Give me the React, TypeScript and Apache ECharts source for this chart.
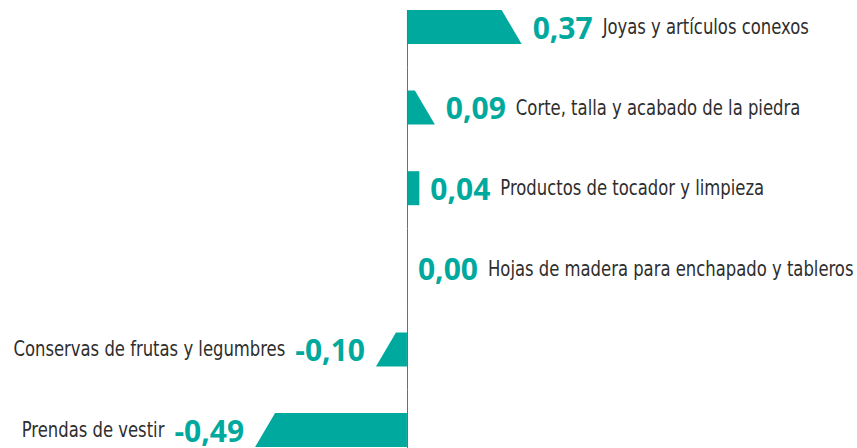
import React, { useEffect, useRef } from "react";
import * as echarts from "echarts";

const categories: string[] = [
  "Joyas y artículos conexos",
  "Corte, talla y acabado de la piedra",
  "Productos de tocador y limpieza",
  "Hojas de madera para enchapado y tableros",
  "Conservas de frutas y legumbres",
  "Prendas de vestir",
];
const values: number[] = [0.37, 0.09, 0.04, 0.0, -0.1, -0.49];

const TEAL = "#00a99d";
const TEXT = "#2e2e2e";
const AXIS = "#6e6e6e";
const CAT_FONT = "'DejaVu Sans Condensed', 'DejaVu Sans', sans-serif";
const CAT_SIZE = 21;
const CAT_SCALE = 0.87;
const VAL_FONT = "'Open Sans', sans-serif";
const VAL_SIZE = 30;

const fmt = (v: number) => v.toFixed(2).replace(".", ",");

let measureCtx: CanvasRenderingContext2D | null = null;
function measure(text: string, font: string): number {
  if (!measureCtx) measureCtx = document.createElement("canvas").getContext("2d");
  if (!measureCtx) return text.length * 16;
  measureCtx.font = font;
  return measureCtx.measureText(text).width;
}

export default function App() {
  const ref = useRef<HTMLDivElement>(null);
  useEffect(() => {
    if (!ref.current) return;
    const chart = echarts.init(ref.current, undefined, { renderer: "svg" });
    const data = values.map((v, i) => [v, i]);
    const n = values.length;
    chart.setOption({
      animation: false,
      grid: { left: 0, right: 0, top: 27, bottom: 18, containLabel: false },
      xAxis: { type: "value", min: -1.313, max: 1.452, show: false },
      yAxis: {
        type: "category",
        data: categories,
        inverse: true,
        boundaryGap: false,
        show: false,
      },
      series: [
        {
          type: "custom",
          data,
          encode: { x: 0, y: 1 },
          renderItem: (params: any, api: any) => {
            const v = api.value(0) as number;
            const idx = api.value(1) as number;
            const p0 = api.coord([0, idx]);
            const p1 = api.coord([v, idx]);
            const band = api.size([0, 1])[1];
            const h = 34;
            const slant = 20;
            const x0 = p0[0];
            const x1 = p1[0];
            const yc = p0[1];
            const w = x1 - x0;
            const sign = w >= 0 ? 1 : -1;
            const children: any[] = [];
            if (Math.abs(w) > slant) {
              children.push({
                type: "polygon",
                shape: {
                  points: [
                    [x0, yc - h / 2],
                    [x1 - sign * slant, yc - h / 2],
                    [x1, yc + h / 2],
                    [x0, yc + h / 2],
                  ],
                },
                style: { fill: TEAL },
              });
            } else if (Math.abs(w) > 0.5) {
              children.push({
                type: "rect",
                shape: { x: Math.min(x0, x1), y: yc - h / 2, width: Math.abs(w), height: h },
                style: { fill: TEAL },
              });
            }
            const lx = Math.round(x0) + 0.5;
            children.push({
              type: "line",
              shape: {
                x1: lx,
                y1: idx === 0 ? yc - h / 2 : yc - band / 2,
                x2: lx,
                y2: idx === n - 1 ? yc + band : yc + band / 2,
              },
              style: { stroke: AXIS, lineWidth: 1 },
            });
            const cat = categories[idx];
            const valText = fmt(v);
            const valW = measure(valText, `bold ${VAL_SIZE}px ${VAL_FONT}`);
            const pos = v >= 0;
            const valX = pos ? x1 + 11 : x1 - 11;
            const catX = pos ? valX + valW + 10 : valX - valW - 10;
            children.push({
              type: "text",
              x: valX,
              y: yc,
              style: {
                text: valText,
                fontFamily: VAL_FONT,
                fontWeight: "bold",
                fontSize: VAL_SIZE,
                lineHeight: 24,
                fill: TEAL,
                align: pos ? "left" : "right",
                verticalAlign: "middle",
              },
            });
            children.push({
              type: "text",
              x: catX,
              y: yc,
              scaleX: CAT_SCALE,
              style: {
                text: cat,
                fontFamily: CAT_FONT,
                fontSize: CAT_SIZE,
                lineHeight: 22,
                fill: TEXT,
                align: pos ? "left" : "right",
                verticalAlign: "middle",
              },
            });
            return { type: "group", children };
          },
        },
      ],
    });
    return () => chart.dispose();
  }, []);
  return (
    <div
      ref={ref}
      style={{ position: "fixed", left: 0, top: 0, width: 857, height: 448, background: "#fff" }}
    />
  );
}
